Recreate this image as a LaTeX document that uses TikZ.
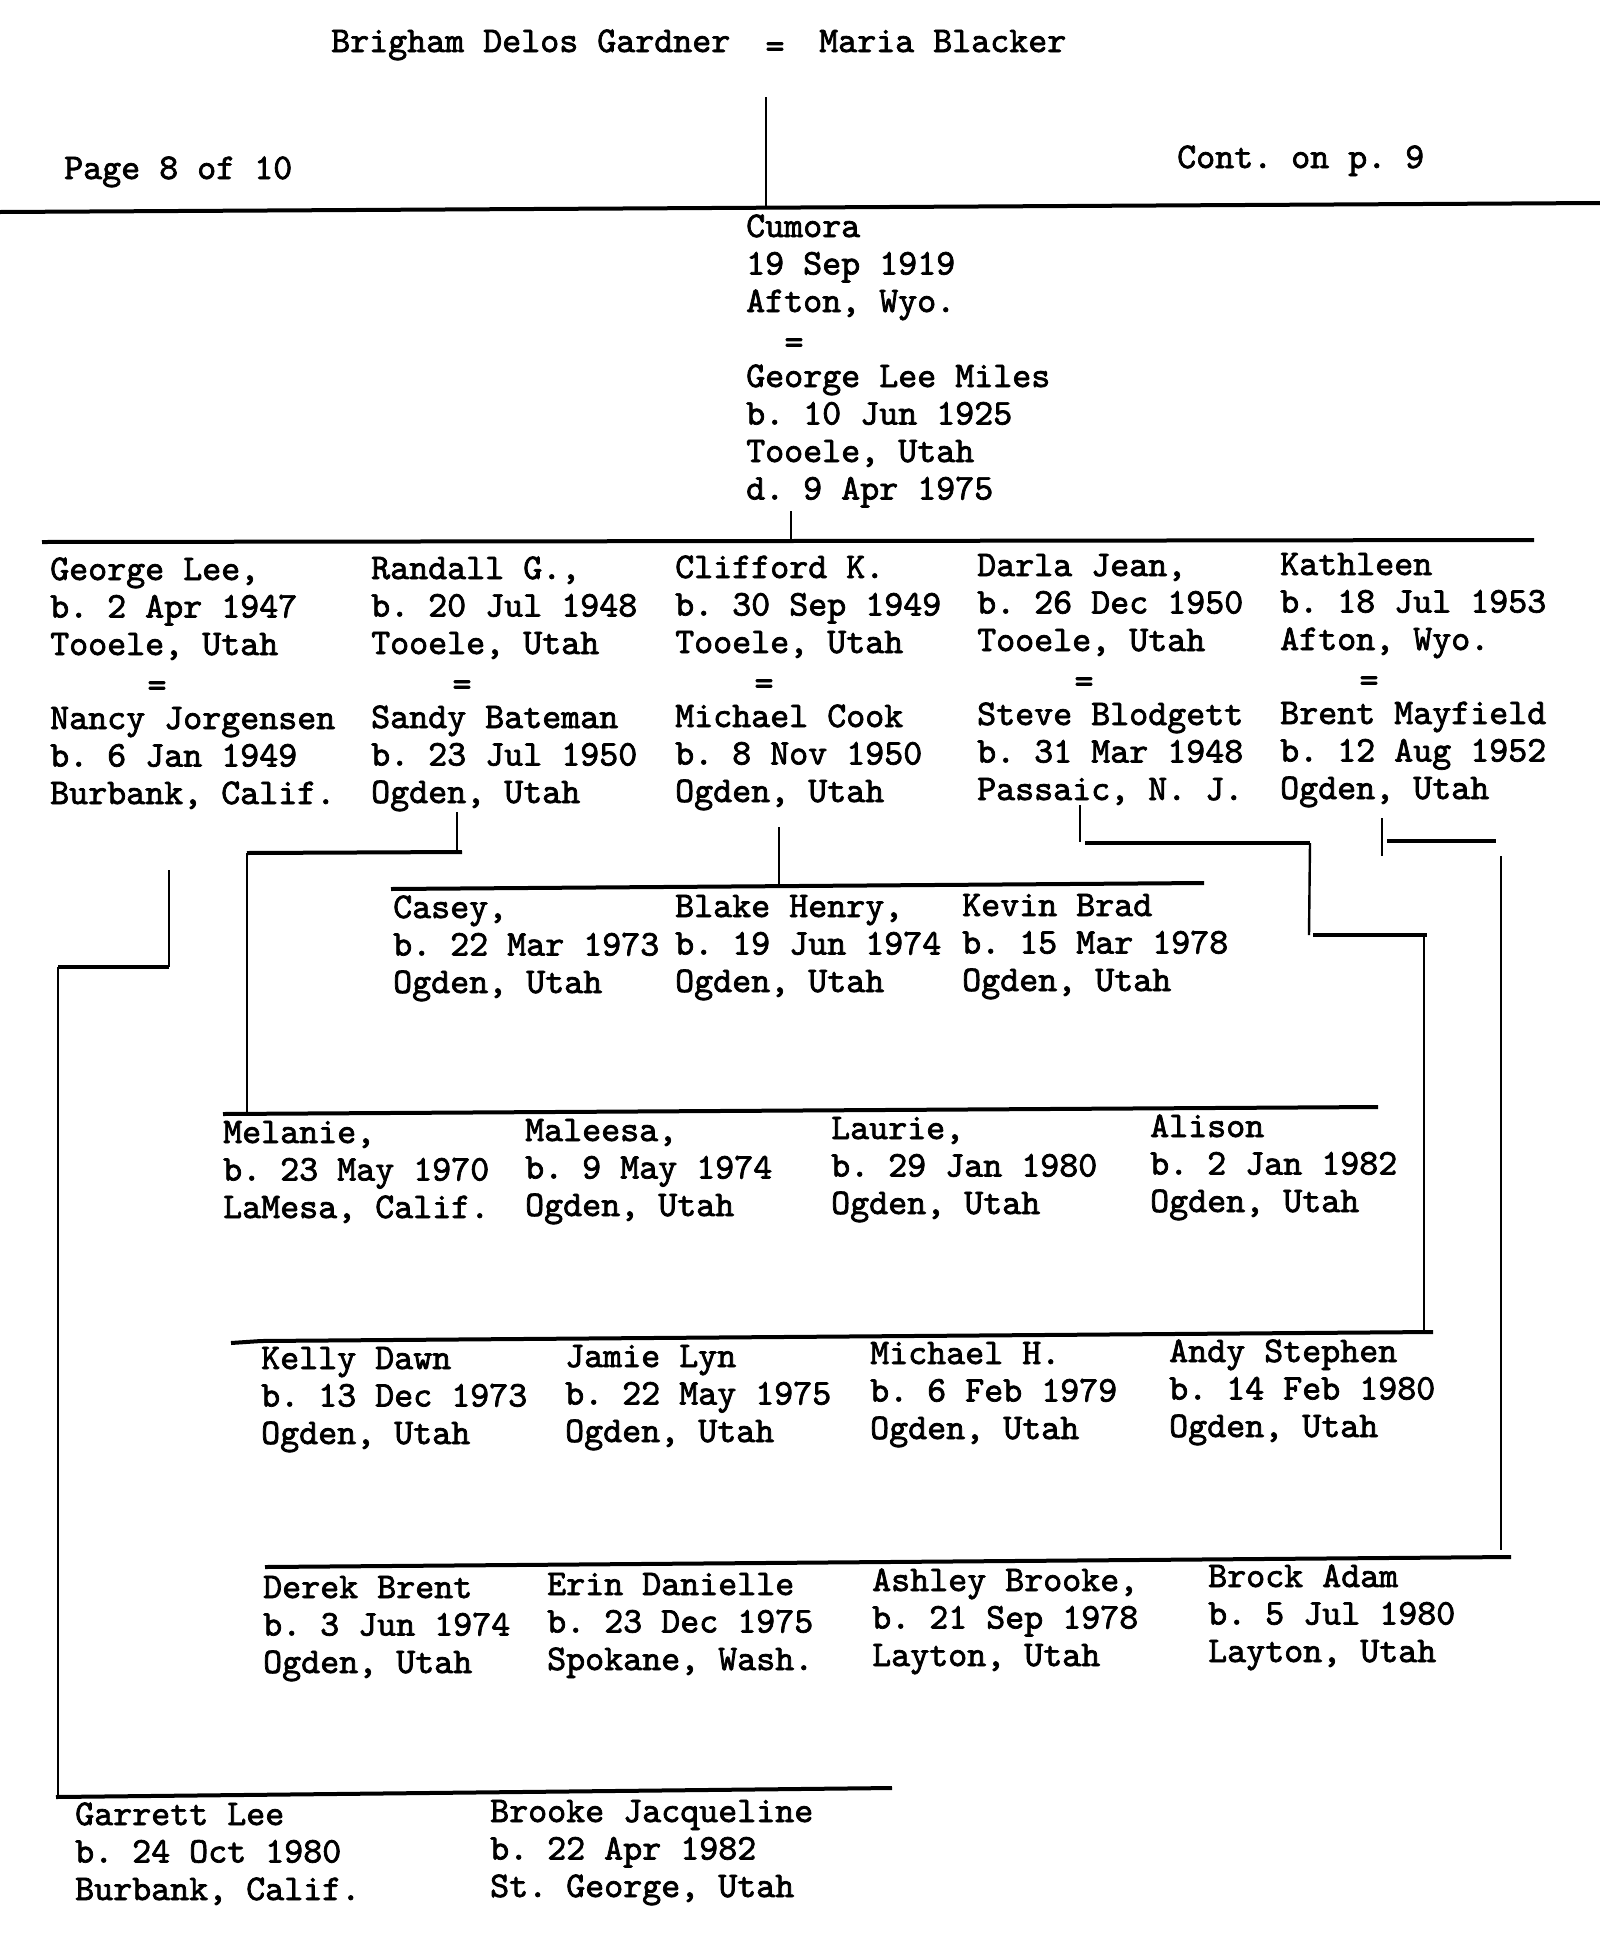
\documentclass[tikz,border=0pt]{standalone}
\usepackage{fontspec}
\newfontfamily\twfam{lmmono10-regular.otf}[FakeBold=2]
\newcommand\tw{\fontsize{36.2}{37.5}\selectfont\twfam\frenchspacing}
\newcommand\persona[6]{%
  \node[txt] (#1-1) at (#2,#3) {#4};
  \node[txt] (#1-2) at (#2,#3+37.5) {#5};
  \node[txt] (#1-3) at (#2,#3+75) {#6};}
\tikzset{
  txt/.style={anchor=base west, inner sep=0pt, font=\tw, text=black},
  eqs/.style={anchor=center, inner sep=0pt, font=\tw, text=black},
  hl/.style={line width=4pt, draw=black},
  vl/.style={line width=2.4pt, draw=black},
}
\begin{document}
\begin{tikzpicture}[x=1pt,y=-1pt]
\useasboundingbox[fill=white] (0,0) rectangle (1600,1957);
% header
\node[txt] (brig) at (331,52) {Brigham Delos Gardner};
\node[eqs] (eq0) at (775,50) {=};
\node[txt] (maria) at (819,52) {Maria Blacker};
\node[txt] (page) at (64,179) {Page 8 of 10};
\node[txt] (cont) at (1177,168) {Cont. on p. 9};
\coordinate (t1) at (766,97);
\coordinate (t2) at (766,208);
\draw[vl] (t1) -- (t2);
\coordinate (tl) at (0,212);
\coordinate (tr) at (1600,203);
\draw[hl] (tl) -- (tr);
% Cumora
\persona{cum}{746}{237}{Cumora}{19 Sep 1919}{Afton, Wyo.}
\node[eqs] (eq1) at (794,346) {=};
\persona{glm}{746}{387}{George Lee Miles}{b. 10 Jun 1925}{Tooele, Utah}
\node[txt] (glm-4) at (746,499.5) {d. 9 Apr 1975};
\coordinate (c1) at (791,511);
\coordinate (c2) at (791,541);
\draw[vl] (c1) -- (c2);
\coordinate (r1l) at (42,542);
\coordinate (r1r) at (1534,540);
\draw[hl] (r1l) -- (r1r);
% row 1
\persona{gl}{50}{580}{George Lee,}{b. 2 Apr 1947}{Tooele, Utah}
\node[eqs] (eqa) at (157,689) {=};
\persona{nj}{50}{729}{Nancy Jorgensen}{b. 6 Jan 1949}{Burbank, Calif.}
\persona{rg}{371}{579}{Randall G.,}{b. 20 Jul 1948}{Tooele, Utah}
\node[eqs] (eqb) at (462,688) {=};
\persona{sb}{371}{728}{Sandy Bateman}{b. 23 Jul 1950}{Ogden, Utah}
\persona{ck}{675}{578}{Clifford K.}{b. 30 Sep 1949}{Tooele, Utah}
\node[eqs] (eqc) at (764,687) {=};
\persona{mc}{675}{727}{Michael Cook}{b. 8 Nov 1950}{Ogden, Utah}
\persona{dj}{977}{576}{Darla Jean,}{b. 26 Dec 1950}{Tooele, Utah}
\node[eqs] (eqd) at (1084,685) {=};
\persona{stb}{977}{725}{Steve Blodgett}{b. 31 Mar 1948}{Passaic, N. J.}
\persona{kt}{1280}{575}{Kathleen}{b. 18 Jul 1953}{Afton, Wyo.}
\node[eqs] (eqe) at (1369,684) {=};
\persona{bm}{1280}{724}{Brent Mayfield}{b. 12 Aug 1952}{Ogden, Utah}
% Casey row
\persona{cas}{393}{918}{Casey,}{b. 22 Mar 1973}{Ogden, Utah}
\persona{bh}{675}{917}{Blake Henry,}{b. 19 Jun 1974}{Ogden, Utah}
\persona{kb}{962}{916}{Kevin Brad}{b. 15 Mar 1978}{Ogden, Utah}
% Melanie row
\persona{mel}{223}{1143}{Melanie,}{b. 23 May 1970}{LaMesa, Calif.}
\persona{mal}{525}{1141}{Maleesa,}{b. 9 May 1974}{Ogden, Utah}
\persona{lau}{831}{1139}{Laurie,}{b. 29 Jan 1980}{Ogden, Utah}
\persona{ali}{1150}{1137}{Alison}{b. 2 Jan 1982}{Ogden, Utah}
% Kelly row
\persona{kd}{261}{1369}{Kelly Dawn}{b. 13 Dec 1973}{Ogden, Utah}
\persona{jl}{565}{1367}{Jamie Lyn}{b. 22 May 1975}{Ogden, Utah}
\persona{mh}{870}{1364}{Michael H.}{b. 6 Feb 1979}{Ogden, Utah}
\persona{as}{1169}{1362}{Andy Stephen}{b. 14 Feb 1980}{Ogden, Utah}
% Derek row
\persona{db}{263}{1598}{Derek Brent}{b. 3 Jun 1974}{Ogden, Utah}
\persona{ed}{547}{1595}{Erin Danielle}{b. 23 Dec 1975}{Spokane, Wash.}
\persona{ab}{872}{1591}{Ashley Brooke,}{b. 21 Sep 1978}{Layton, Utah}
\persona{ba}{1208}{1587}{Brock Adam}{b. 5 Jul 1980}{Layton, Utah}
% Garrett row
\persona{gar}{75}{1825}{Garrett Lee}{b. 24 Oct 1980}{Burbank, Calif.}
\persona{bj}{490}{1822}{Brooke Jacqueline}{b. 22 Apr 1982}{St. George, Utah}
% George Lee family
\coordinate (g1) at (169,870);
\coordinate (g2) at (169,967);
\coordinate (g3) at (58,967);
\coordinate (g4) at (58,1797);
\draw[vl] (g1) -- (g2);
\draw[hl] (g2) -- (g3);
\draw[vl] (g3) -- (g4);
\coordinate (gl1) at (56,1797);
\coordinate (gl2) at (892,1788);
\draw[hl] (gl1) -- (gl2);
% Randall family
\coordinate (rf1) at (457,812);
\coordinate (rf2) at (457,852);
\coordinate (rf3) at (462,852);
\coordinate (rf4) at (247,853);
\coordinate (rf5) at (247,1113);
\draw[vl] (rf1) -- (rf2);
\draw[hl] (rf3) -- (rf4);
\draw[vl] (rf4) -- (rf5);
\coordinate (ml1) at (223,1114);
\coordinate (ml2) at (1378,1107);
\draw[hl] (ml1) -- (ml2);
% Clifford family
\coordinate (cf1) at (779,827);
\coordinate (cf2) at (779,887);
\draw[vl] (cf1) -- (cf2);
\coordinate (cl1) at (391,889);
\coordinate (cl2) at (1204,883);
\draw[hl] (cl1) -- (cl2);
% Darla family
\coordinate (df1) at (1080,805);
\coordinate (df2) at (1080,842);
\coordinate (df3) at (1085,843);
\coordinate (df4) at (1310,843);
\coordinate (df5) at (1309,935);
\coordinate (df6) at (1313,935);
\coordinate (df7) at (1427,935);
\coordinate (df8) at (1424,935);
\coordinate (df9) at (1424,1334);
\draw[vl] (df1) -- (df2);
\draw[hl] (df3) -- (df4);
\draw[vl] (df4) -- (df5);
\draw[hl] (df6) -- (df7);
\draw[vl] (df8) -- (df9);
\coordinate (kl0) at (231,1343);
\coordinate (kl1) at (261,1341);
\coordinate (kl2) at (1433,1332);
\draw[hl] (kl0) -- (kl1) -- (kl2);
% Kathleen family
\coordinate (kf1) at (1382,818);
\coordinate (kf2) at (1382,856);
\coordinate (kf3) at (1387,841);
\coordinate (kf4) at (1496,841);
\coordinate (kf5) at (1501,856);
\coordinate (kf6) at (1501,1550);
\draw[vl] (kf1) -- (kf2);
\draw[hl] (kf3) -- (kf4);
\draw[vl] (kf5) -- (kf6);
\coordinate (dl1) at (265,1567);
\coordinate (dl2) at (1511,1557);
\draw[hl] (dl1) -- (dl2);
\end{tikzpicture}
\end{document}
